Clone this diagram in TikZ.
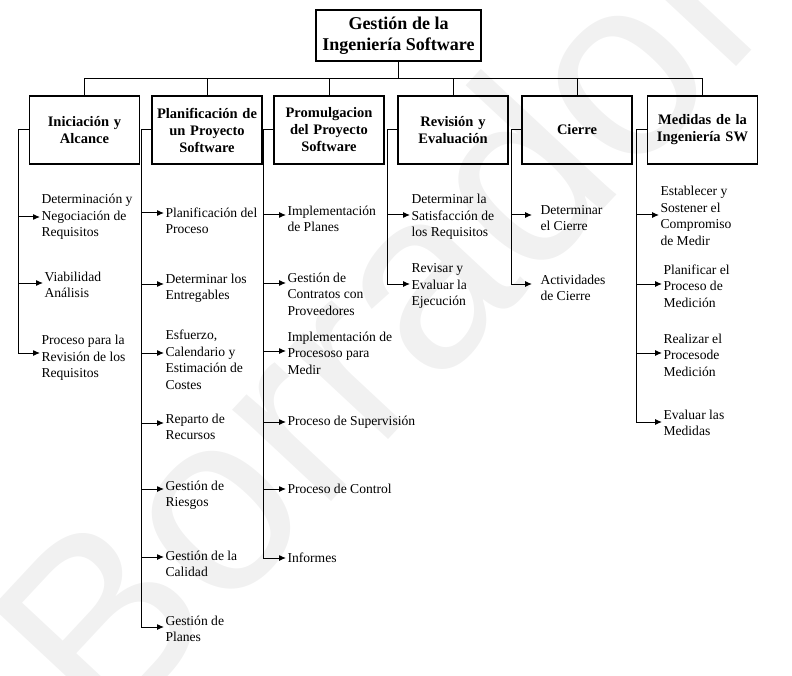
\documentclass[tikz,border=0pt]{standalone}
\usepackage{fontspec}
\setmainfont{Liberation Serif}
\newfontfamily\wmfont{Liberation Sans}
\usetikzlibrary{arrows.meta}

\begin{document}
\begin{tikzpicture}[x=1pt, y=-1pt, line width=1pt,
    >={Latex[length=7pt,width=6pt]},
    area/.style={draw, line width=1.4pt, minimum width=110pt, minimum height=68pt,
        text width=106pt, inner sep=2pt, align=center,
        font=\fontsize{14.5}{17}\selectfont\bfseries},
    task/.style={anchor=west, inner sep=1pt, align=left,
        font=\fontsize{13.6}{16.5}\selectfont}]
    \useasboundingbox (0,0) rectangle (792,676);
    % watermark
    \node[rotate=47, text=gray!11, font=\fontsize{255}{255}\wmfont] (wm) at (378,318) {Borrador};

    \node[draw, line width=1.4pt, minimum width=165pt, minimum height=51pt, align=center,
        font=\fontsize{18}{21}\selectfont\bfseries] (gis) at (398.5,35.5) {Gestión de la\\Ingeniería Software};

    \node[area] (ini) at (84.5,130) {Iniciación y\\Alcance};
    \node[area] (pla) at (207,130)  {Planificación de\\un Proyecto\\Software};
    \node[area] (pro) at (329,130)  {Promulgacion\\del Proyecto\\Software};
    \node[area] (rev) at (453,130)  {Revisión y\\Evaluación};
    \node[area] (cie) at (577,130)  {Cierre};
    \node[area] (med) at (702.5,130){Medidas de la\\Ingeniería SW};

    \foreach \h in {ini,pla,pro,rev,cie,med}
        \draw (gis.south) -- ++(0,17) -| (\h.north);

    \foreach \h/\s in {ini/s1,pla/s2,pro/s3,rev/s4,cie/s5,med/s6}
        \coordinate (\s) at ([xshift=-10pt]\h.west);

    % Iniciacion
    \node[task] (a1) at (40,217) {Determinación y\\Negociación de\\Requisitos};
    \node[task] (a2) at (43,285) {Viabilidad\\Análisis};
    \node[task] (a3) at (40,358) {Proceso para la\\Revisión de los\\Requisitos};
    % Planificacion
    \node[task] (b1) at (164,221) {Planificación del\\Proceso};
    \node[task] (b2) at (164,288) {Determinar los\\Entregables};
    \node[task] (b3) at (164,360) {Esfuerzo,\\Calendario y\\Estimación de\\Costes};
    \node[task] (b4) at (164,427) {Reparto de\\Recursos};
    \node[task] (b5) at (164,495) {Gestión de\\Riesgos};
    \node[task] (b6) at (164,564) {Gestión de la\\Calidad};
    \node[task] (b7) at (164,629) {Gestión de\\Planes};
    % Promulgacion
    \node[task] (c1) at (286,219) {Implementación\\de Planes};
    \node[task] (c2) at (286,294) {Gestión de\\Contratos con\\Proveedores};
    \node[task] (c3) at (286,353) {Implementación de\\Procesoso para\\Medir};
    \node[task] (c4) at (286,422) {Proceso de Supervisión};
    \node[task] (c5) at (286,489) {Proceso de Control};
    \node[task] (c6) at (286,558) {Informes};
    % Revision
    \node[task] (d1) at (410,217) {Determinar la\\Satisfacción de\\los Requisitos};
    \node[task] (d2) at (410,286) {Revisar y\\Evaluar la\\Ejecución};
    % Cierre
    \node[task] (e1) at (539,218) {Determinar\\el Cierre};
    \node[task] (e2) at (539,288) {Actividades\\de Cierre};
    % Medidas
    \node[task] (f1) at (659,216) {Establecer y\\Sostener el\\Compromiso\\de Medir};
    \node[task] (f2) at (662,286) {Planificar el\\Proceso de\\Medición};
    \node[task] (f3) at (662,355) {Realizar el\\Procesode\\Medición};
    \node[task] (f4) at (662,423) {Evaluar las\\Medidas};

    % spines
    \draw[->] (ini.west) -- (s1) |- ([yshift=5pt]a3.west);
    \draw[->] (pla.west) -- (s2) |- ([yshift=2pt]b7.west);
    \draw[->] (pro.west) -- (s3) |- (c6.west);
    \draw[->] (rev.west) -- (s4) |- ([yshift=2pt]d2.west);
    \draw[->, shorten >=7pt] (cie.west) -- (s5) |- ([yshift=4pt]e2.west);
    \draw[->] (med.west) -- (s6) |- ([yshift=1pt]f4.west);

    \foreach \n/\s/\d in {a1/s1/0, a2/s1/2,
            b1/s2/8, b2/s2/4, b3/s2/7, b4/s2/4, b5/s2/6, b6/s2/7,
            c1/s3/4, c2/s3/11, c3/s3/2, c4/s3/0, c5/s3/0,
            d1/s4/2,
            f1/s6/1, f2/s6/2, f3/s6/2}
        \draw[->] ([yshift=\d pt]\n.west -| \s) -- ([yshift=\d pt]\n.west);
    \draw[->, shorten >=7pt] ([yshift=3pt]e1.west -| s5) -- ([yshift=3pt]e1.west);
\end{tikzpicture}
\end{document}
